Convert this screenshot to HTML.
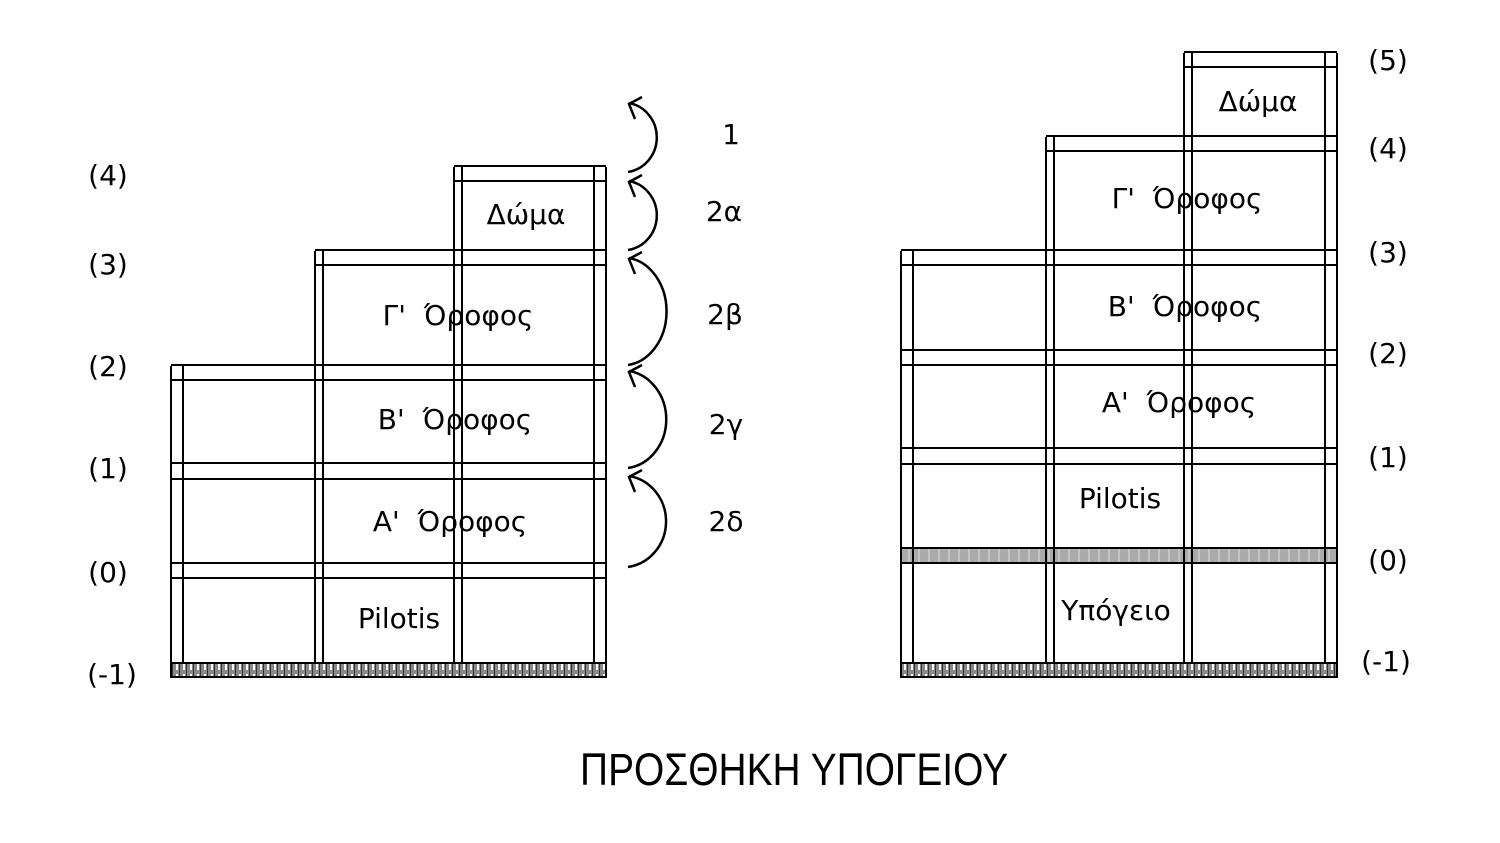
<!DOCTYPE html>
<html><head><meta charset="utf-8"><style>html,body{margin:0;padding:0;background:#fff}svg{display:block}</style></head><body>
<svg width="1500" height="843" viewBox="0 0 1500 843" xmlns="http://www.w3.org/2000/svg">
<defs>
<pattern id="h" width="7" height="14" patternUnits="userSpaceOnUse">
<rect width="7" height="14" fill="#888"/>
<rect x="1" y="2" width="2" height="10" fill="#fff"/>
<rect x="4" y="0" width="1" height="14" fill="#333"/>
</pattern>
<pattern id="g" width="10" height="15" patternUnits="userSpaceOnUse">
<rect width="10" height="15" fill="#aaa"/>
<line x1="0" y1="7.5" x2="10" y2="7.5" stroke="#ccc" stroke-width="1"/>
<line x1="9" y1="0" x2="9" y2="15" stroke="#ddd" stroke-width="1"/>
</pattern>
</defs>
<g stroke="#000" stroke-width="2" fill="none">
<rect x="171" y="663" width="435" height="14" fill="url(#h)"/>
<path d="M171 366V663M183 366V663M315 251V663M323 251V663M454 167V663M462 167V663M594 167V663M606 167V663"/>
<path d="M454 166H606M454 181H606M315 250H606M315 265H606M171 365H606M171 380H606M171 463H606M171 479H606M171 563H606M171 578H606"/>
<rect x="901" y="663" width="436" height="14" fill="url(#h)"/>
<rect x="901" y="548" width="436" height="15" fill="url(#g)"/>
<path d="M901 251V663M913 251V663M1046 137V663M1054 137V663M1184 53V663M1192 53V663M1325 53V663M1337 53V663"/>
<path d="M1184 52H1337M1184 67H1337M1046 136H1337M1046 151H1337M901 250H1337M901 265H1337M901 350H1337M901 365H1337M901 448H1337M901 464H1337"/>
</g>
<g stroke="#000" stroke-width="2.5" fill="none">
<path d="M628 172A34 35 0 0 0 629 103M642 97L629 104L635 119"/>
<path d="M628 250A34 35 0 0 0 629 181M642 175L629 182L635 197"/>
<path d="M628 365A44 54 0 0 0 629 258M642 252L629 259L635 274"/>
<path d="M628 468A44 49 0 0 0 629 371M642 365L629 372L635 387"/>
<path d="M628 567A44 46 0 0 0 629 476M642 470L629 477L635 492"/>
</g>
<g font-family="DejaVu Sans, Liberation Sans, sans-serif" font-size="28" fill="#000" text-anchor="middle" style="white-space:pre">
<text x="526" y="224">Δώμα</text>
<text x="458" y="325" xml:space="preserve">Γ'  Όροφος</text>
<text x="455" y="429" xml:space="preserve">Β'  Όροφος</text>
<text x="450" y="531" xml:space="preserve">Α'  Όροφος</text>
<text x="399" y="628">Pilotis</text>
<text x="1258" y="111">Δώμα</text>
<text x="1187" y="208" xml:space="preserve">Γ'  Όροφος</text>
<text x="1185" y="316" xml:space="preserve">Β'  Όροφος</text>
<text x="1179" y="412" xml:space="preserve">Α'  Όροφος</text>
<text x="1120" y="508">Pilotis</text>
<text x="1116" y="620">Υπόγειο</text>
<text x="108" y="185">(4)</text>
<text x="108" y="274">(3)</text>
<text x="108" y="376">(2)</text>
<text x="108" y="478">(1)</text>
<text x="108" y="582">(0)</text>
<text x="112" y="684">(-1)</text>
<text x="1388" y="70">(5)</text>
<text x="1388" y="158">(4)</text>
<text x="1388" y="262">(3)</text>
<text x="1388" y="363">(2)</text>
<text x="1388" y="467">(1)</text>
<text x="1388" y="570">(0)</text>
<text x="1386" y="671">(-1)</text>
<text x="731" y="144">1</text>
<text x="724" y="221">2α</text>
<text x="725" y="324">2β</text>
<text x="726" y="434">2γ</text>
<text x="726" y="531">2δ</text>
<text x="794" y="785" font-family="Liberation Sans, sans-serif" font-size="45" textLength="428" lengthAdjust="spacingAndGlyphs">ΠΡΟΣΘΗΚΗ ΥΠΟΓΕΙΟΥ</text>
</g>
</svg>
</body></html>
